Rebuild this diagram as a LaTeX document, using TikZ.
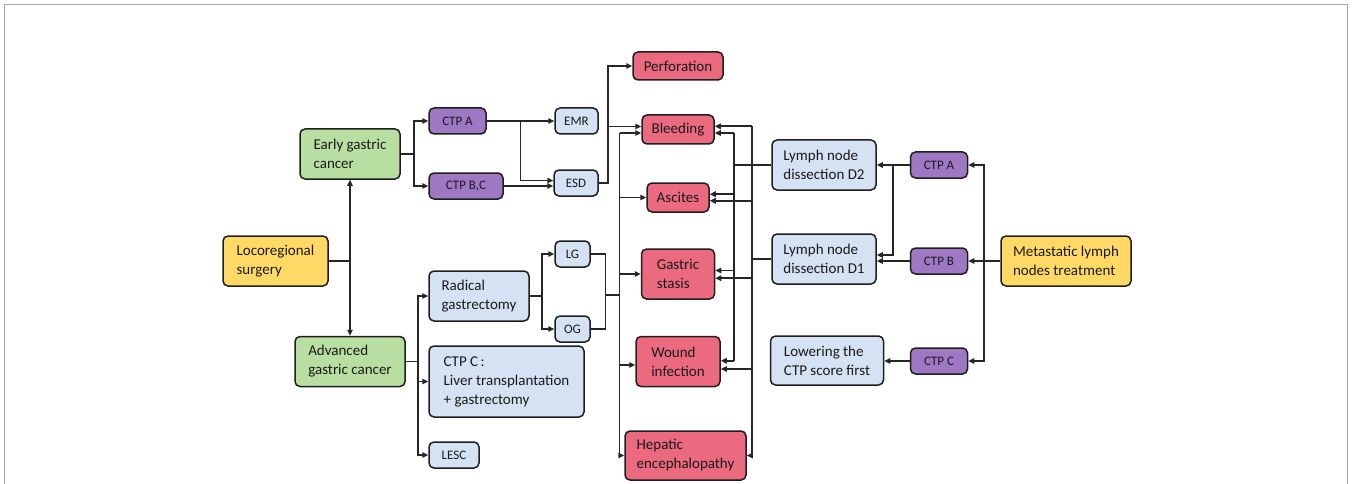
\documentclass[tikz,border=0pt]{standalone}
\usepackage{fontspec}
\setmainfont{Carlito}
\usetikzlibrary{arrows.meta,calc}
\definecolor{yel}{HTML}{FFD966}
\definecolor{grn}{HTML}{B8DFA1}
\definecolor{pur}{HTML}{9F78C4}
\definecolor{blu}{HTML}{D5E2F3}
\definecolor{red}{HTML}{EB6A7F}
\definecolor{bordc}{HTML}{1E1E1E}
\definecolor{linec}{HTML}{262626}
\definecolor{txt}{HTML}{1A1A1A}
\definecolor{framec}{HTML}{A6A6A6}
\begin{document}
\begin{tikzpicture}[x=1pt,y=-1pt,
  box/.style={draw=bordc, line width=1.5pt, rounded corners=5pt, align=left, inner sep=0pt, text=txt, font=\fontsize{15}{19}\selectfont},
  sbox/.style={box, font=\fontsize{13}{16}\selectfont, minimum height=26pt},
  yelbox/.style={box, fill=yel},
  grnbox/.style={box, fill=grn},
  purbox/.style={sbox, fill=pur},
  blubox/.style={box, fill=blu},
  blusm/.style={sbox, fill=blu},
  redbox/.style={box, fill=red},
  conn/.style={draw=linec, line width=1.6pt},
  arr/.style={conn, -{Triangle[length=6pt,width=5.5pt]}}]
\useasboundingbox (0,0) rectangle (1352,484);
\draw[framec, line width=1.4pt] (4.5,484) -- (4.5,4.5) -- (1347.5,4.5) -- (1347.5,484);

% nodes
\node[yelbox, minimum width=105pt, minimum height=50pt] (loco) at (275.5,261) {Locoregional\\surgery};
\node[grnbox, minimum width=100pt, minimum height=50pt] (early) at (350,154) {Early gastric\\cancer};
\node[grnbox, minimum width=110pt, minimum height=50pt] (adv) at (350,361.5) {Advanced\\gastric cancer};
\node[purbox, minimum width=57pt] (ctpa1) at (457.5,121) {CTP A};
\node[purbox, minimum width=74pt] (ctpbc) at (466,186) {CTP B,C};
\node[blusm, minimum width=43pt] (emr) at (576.5,121) {EMR};
\node[blusm, minimum width=44pt] (esd) at (576,183) {ESD};
\node[blubox, minimum width=100pt, minimum height=50pt] (rad) at (479,296) {Radical\\gastrectomy};
\node[blusm, minimum width=35pt] (lg) at (572.5,254) {LG};
\node[blusm, minimum width=35pt] (og) at (572.5,329) {OG};
\node[blubox, minimum width=155pt, minimum height=71pt] (ctpcl) at (506.5,381.5) {CTP C\,:\\Liver transplantation\\+ gastrectomy};
\node[blusm, minimum width=50pt] (lesc) at (454,455) {LESC};
\node[redbox, minimum width=90pt, minimum height=28pt] (perf) at (678,66) {Perforation};
\node[redbox, minimum width=72pt, minimum height=29pt] (bleed) at (678,129.5) {Bleeding};
\node[redbox, minimum width=62pt, minimum height=29pt] (asc) at (678,197.5) {Ascites};
\node[redbox, minimum width=73pt, minimum height=50pt] (gs) at (678,274) {Gastric\\stasis};
\node[redbox, minimum width=84pt, minimum height=50pt] (wi) at (678,361.5) {Wound\\infection};
\node[redbox, minimum width=121pt, minimum height=49pt] (he) at (685.5,455.5) {Hepatic\\encephalopathy};
\node[blubox, minimum width=104pt, minimum height=50pt] (d2) at (824,165) {Lymph node\\dissection D2};
\node[blubox, minimum width=104pt, minimum height=50pt] (d1) at (824,259) {Lymph node\\dissection D1};
\node[blubox, minimum width=113pt, minimum height=49pt] (low) at (827,360.5) {Lowering the\\CTP score first};
\node[purbox, minimum width=57pt] (ctpa2) at (939,165) {CTP A};
\node[purbox, minimum width=57pt] (ctpb2) at (939,261) {CTP B};
\node[purbox, minimum width=57pt] (ctpc2) at (939,361) {CTP C};
\node[yelbox, minimum width=130pt, minimum height=50pt] (meta) at (1066,261) {Metastatic lymph\\nodes treatment};

% left part
\coordinate (j1) at (350,261);
\draw[conn] (loco.east) -- (j1);
\draw[arr] (j1) -- (early.south);
\draw[arr] (j1) -- (adv.north);

\coordinate (j2) at (414,154);
\draw[conn] (early.east) -- (j2);
\draw[arr] (j2) |- (ctpa1.west);
\draw[arr] (j2) |- (ctpbc.west);

\draw[arr] (ctpa1.east) -- (emr.west);
\coordinate (j3) at (520.5,121);
\coordinate (esdin1) at ($(esd.west)+(0,-2.5)$);
\draw[arr] (j3) |- (esdin1);
\draw[arr] (ctpbc.east) -- (ctpbc.east -| esd.west);

\coordinate (x4) at (608,0);
\draw[arr] (esd.east) -- (esd.east -| x4) |- (perf.west);
\coordinate (bl1) at ($(bleed.west)+(0,-3)$);
\draw[arr] (bl1 -| x4) -- (bl1);

\coordinate (j5) at (418,361.5);
\draw[conn] (adv.east) -- (j5);
\draw[arr] (j5) |- (rad.west);
\draw[arr] (j5) |- (ctpcl.west);
\draw[arr] (j5) |- (lesc.west);

\coordinate (j6) at (542,296);
\draw[conn] (rad.east) -- (j6);
\draw[arr] (j6) |- (lg.west);
\draw[arr] (j6) |- (og.west);

\coordinate (xL) at (619.5,0);
\coordinate (j7) at (605.5,295);
\draw[conn] (lg.east) -| (j7);
\draw[conn] (og.east) -| (j7);
\draw[conn] (j7) -- (j7 -| xL);
\coordinate (bl2) at ($(bleed.west)+(0,3.5)$);
\draw[arr] (bl2 -| xL) |- (he.west);
\draw[arr] (bl2 -| xL) -- (bl2);
\draw[arr] (asc.west -| xL) -- (asc.west);
\draw[arr] (gs.west -| xL) -- (gs.west);
\coordinate (wil) at ($(wi.west)+(0,3.5)$);
\draw[arr] (wil -| xL) -- (wil);

% right trunks
\coordinate (xa) at (734,0);
\coordinate (xb) at (752,0);
\coordinate (br1) at ($(bleed.east)+(0,-3.2)$);
\coordinate (br2) at ($(bleed.east)+(0,3.5)$);
\coordinate (ar1) at ($(asc.east)+(0,-3.3)$);
\coordinate (ar2) at ($(asc.east)+(0,3.3)$);
\coordinate (gr1) at ($(gs.east)+(0,-3.5)$);
\coordinate (gr2) at ($(gs.east)+(0,4.2)$);
\coordinate (wr1) at ($(wi.east)+(0,-0.7)$);
\coordinate (wr2) at ($(wi.east)+(0,7.5)$);

\draw[conn] (d2.west) -- (d2.west -| xa);
\draw[conn] (br2 -| xa) -- (wr1 -| xa);
\draw[arr] (br2 -| xa) -- (br2);
\draw[arr] (ar1 -| xa) -- (ar1);
\draw[arr] (gr1 -| xa) -- (gr1);
\draw[arr] (wr1 -| xa) -- (wr1);

\draw[conn] (d1.west) -- (d1.west -| xb);
\draw[arr] (br1 -| xb) |- (he.east);
\draw[arr] (br1 -| xb) -- (br1);
\draw[arr] (ar2 -| xb) -- (ar2);
\draw[arr] (gr2 -| xb) -- (gr2);
\draw[arr] (wr2 -| xb) -- (wr2);

% far right
\coordinate (j10) at (984,261);
\draw[arr] (meta.west) -- (ctpb2.east);
\draw[arr] (j10) |- (ctpa2.east);
\draw[arr] (j10) |- (ctpc2.east);
\draw[arr] (ctpa2.west) -- (d2.east);
\coordinate (j11) at (893,165);
\draw[arr] (j11) |- ($(d1.east)+(0,-4)$);
\draw[arr] (ctpb2.west) -- (ctpb2.west -| d1.east);
\draw[arr] (ctpc2.west) -- (ctpc2.west -| low.east);
\end{tikzpicture}
\end{document}
